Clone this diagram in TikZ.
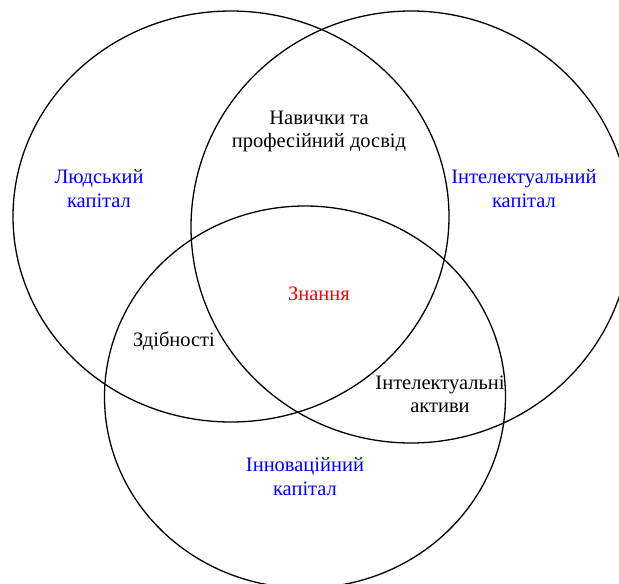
\documentclass[tikz,border=0pt]{standalone}
\usepackage{fontspec}
\setmainfont{Liberation Serif}
\definecolor{capblue}{RGB}{0,0,255}
\definecolor{corered}{RGB}{255,0,0}
\tikzset{
  set/.style={draw=black, line width=1.3pt},
  lbl/.style={align=center, inner sep=0pt, font=\fontsize{20.5}{23.5}\selectfont},
  capital/.style={lbl, text=capblue},
  overlap/.style={lbl, text=black},
  core/.style={lbl, text=corered}
}
\begin{document}
\begin{tikzpicture}[x=1pt, y=-1pt]
  \useasboundingbox (0,0) rectangle (619,584);
  \begin{scope}
    \clip (0,0) rectangle (619,584);
    % three overlapping sets
    \draw[set] (231,216.5) ellipse [x radius=218, y radius=205.5];
    \draw[set] (411,227) ellipse [x radius=220, y radius=216];
    \draw[set] (305,397) ellipse [x radius=200.5, y radius=191];
  \end{scope}
  % set names
  \node[capital] (human) at (99,188.5) {Людський\\капітал};
  \node[capital] (intel) at (524,188.5) {Інтелектуальний\\капітал};
  \node[capital] (innov) at (305,476.5) {Інноваційний\\капітал};
  % pairwise overlaps
  \node[overlap] (skills) at (319,131.5) {Навички та\\професійний досвід};
  \node[overlap] (abil) at (174,341.5) {Здібності};
  \node[overlap] (assets) at (440,394.5) {Інтелектуальні\\активи};
  % common core
  \node[core] (know) at (319,294) {Знання};
\end{tikzpicture}
\end{document}
